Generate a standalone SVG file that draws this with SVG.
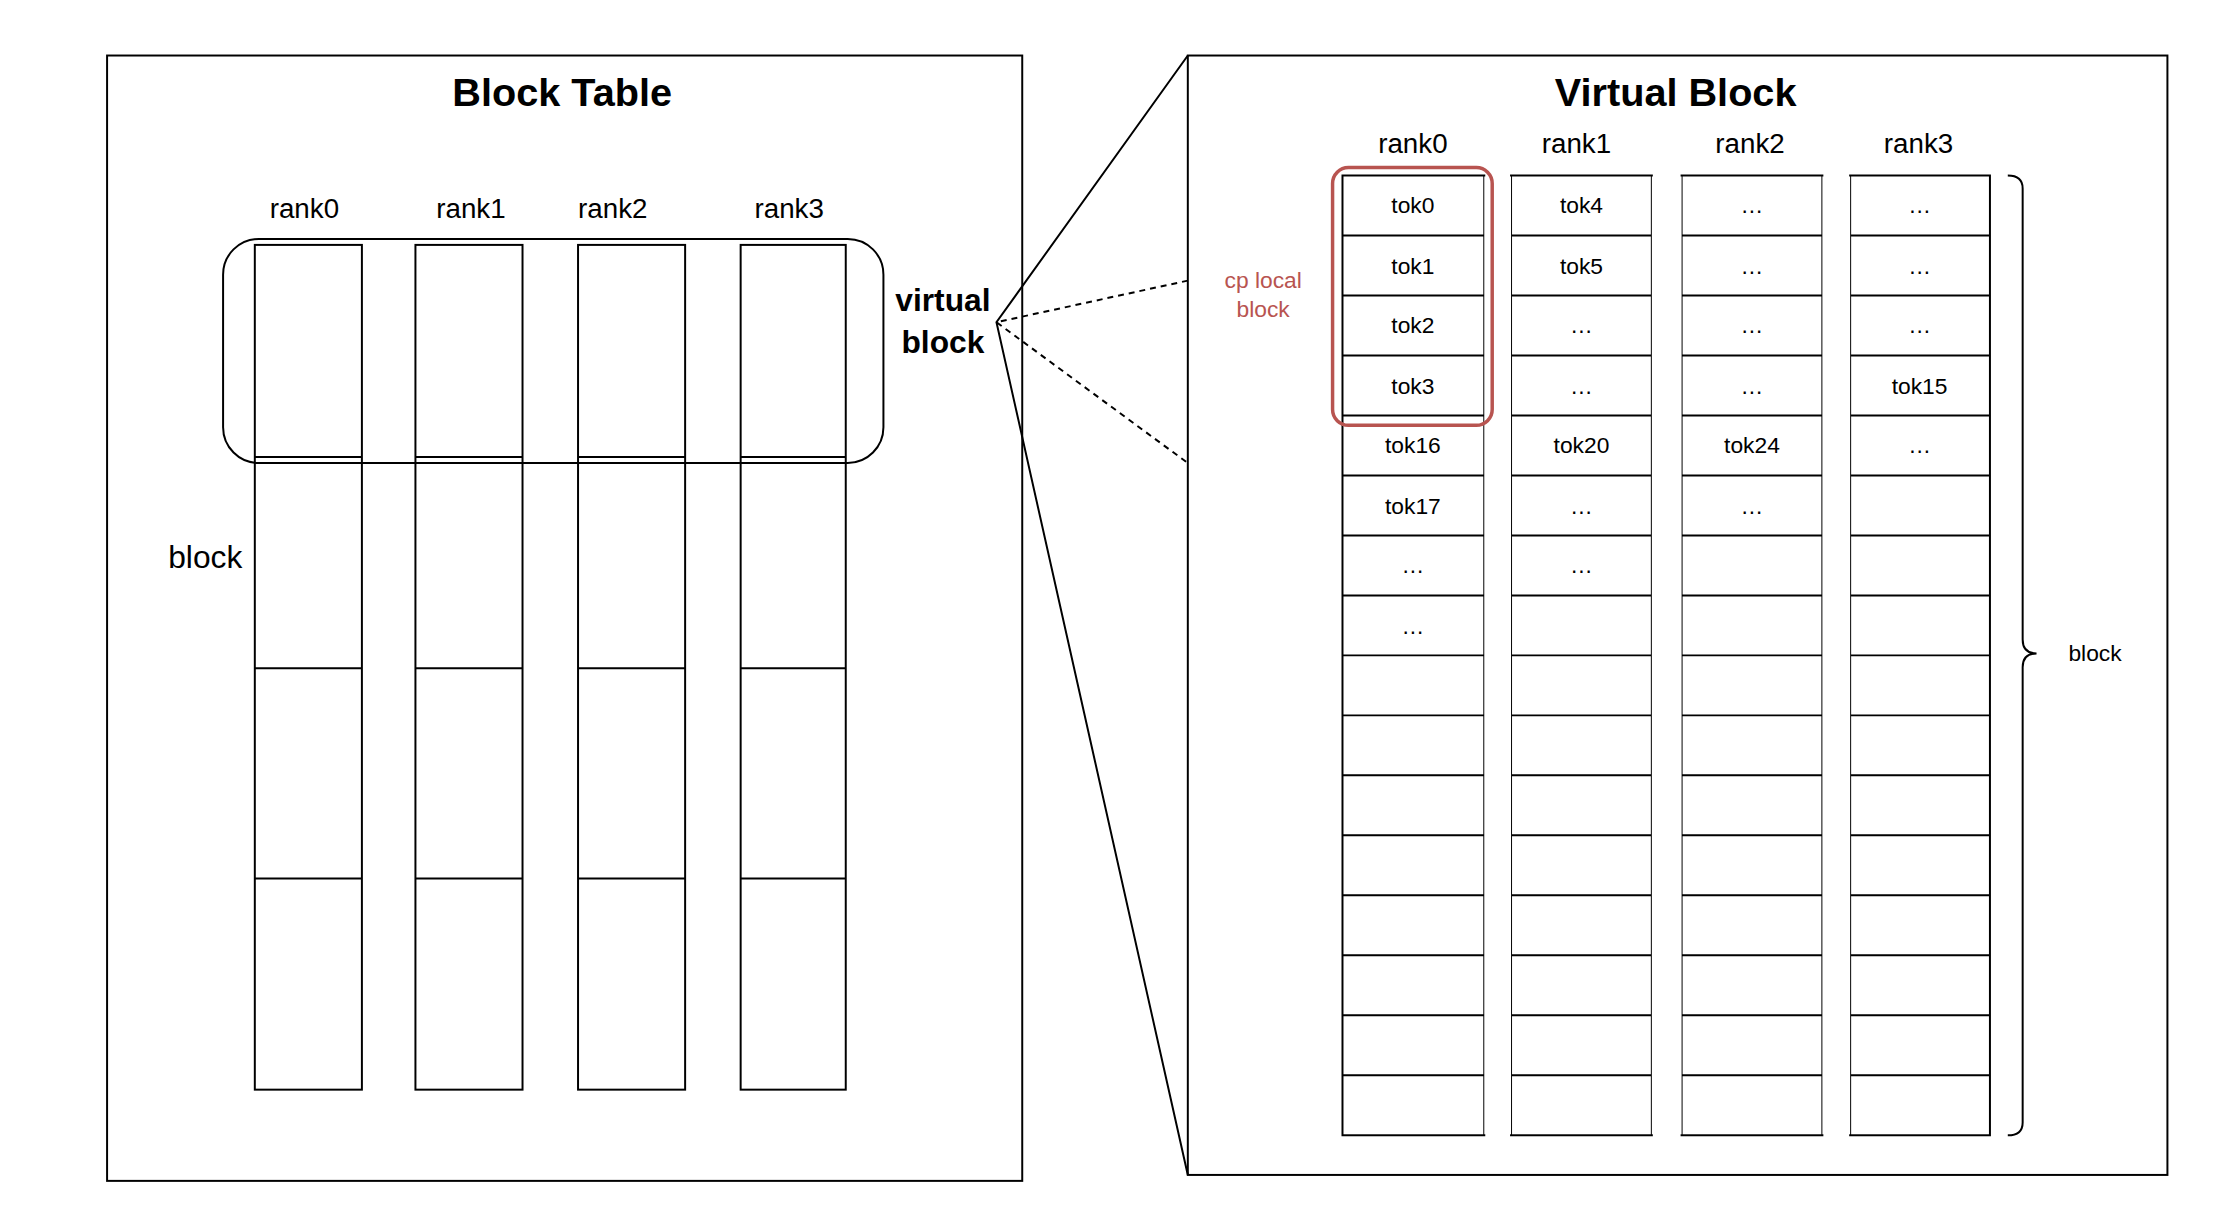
<svg xmlns="http://www.w3.org/2000/svg" width="2232" height="1232" viewBox="0 0 2232 1232">
<style>
.b{fill:none;stroke:#000;stroke-width:2}
.t{font-family:"Liberation Sans",Arial,sans-serif;fill:#000;text-anchor:middle;dominant-baseline:central}
.r{font-size:28px}.c{font-size:23px}
.h{font-size:40px;font-weight:bold}
</style>
<rect width="2232" height="1232" fill="#fff"/>
<g transform="scale(0.9915)">
<g id="block-table">
<rect class="b" x="108" y="56" width="923" height="1135"/>
<text class="t h" x="567" y="93">Block Table</text>
<text class="t r" x="307" y="210">rank0</text><text class="t r" x="475" y="210">rank1</text><text class="t r" x="618" y="210">rank2</text><text class="t r" x="796" y="210">rank3</text>
<g class="b">
<rect x="257" y="247" width="108" height="852"/><rect x="419" y="247" width="108" height="852"/><rect x="583" y="247" width="108" height="852"/><rect x="747" y="247" width="106" height="852"/>
<path d="M257 461H365M419 461H527M583 461H691M747 461H853M257 674H365M419 674H527M583 674H691M747 674H853M257 886H365M419 886H527M583 886H691M747 886H853"/>
</g>
<text class="t" x="207" y="562" font-size="32">block</text>
</g>
<g id="virtual-block-group">
<rect class="b" x="225" y="241" width="666" height="226" rx="36"/>
<text class="t" x="951" y="303" font-size="32" font-weight="bold">virtual</text>
<text class="t" x="951" y="345" font-size="32" font-weight="bold">block</text>
</g>
<g id="connectors" class="b">
<path d="M1198 56L1005 325L1198 1185"/>
<path d="M1198 283L1005 325L1198 467" stroke-dasharray="6 5"/>
</g>
<g id="virtual-block">
<rect class="b" x="1198" y="56" width="988" height="1129"/>
<text class="t h" x="1690" y="93">Virtual Block</text>
<text class="t r" x="1425" y="145">rank0</text><text class="t r" x="1590" y="145">rank1</text><text class="t r" x="1765" y="145">rank2</text><text class="t r" x="1935" y="145">rank3</text>
<g class="b" stroke-width="2.5">
<rect x="1354" y="177" width="143" height="968"/><rect x="1524" y="177" width="142" height="968"/><rect x="1696" y="177" width="142" height="968"/><rect x="1866" y="177" width="141" height="968"/>
<path d="M1354 237.5H2007M1354 298H2007M1354 358.5H2007M1354 419H2007M1354 479.5H2007M1354 540H2007M1354 600.5H2007M1354 661H2007M1354 721.5H2007M1354 782H2007M1354 842.5H2007M1354 903H2007M1354 963.5H2007M1354 1024H2007M1354 1084.5H2007" />
<rect x="1497" y="178" width="27" height="966" fill="#fff" stroke="none"/><rect x="1666" y="178" width="30" height="966" fill="#fff" stroke="none"/><rect x="1838" y="178" width="28" height="966" fill="#fff" stroke="none"/>
</g>
<g class="t c">
<text x="1425" y="207">tok0</text><text x="1425" y="268">tok1</text><text x="1425" y="328">tok2</text><text x="1425" y="389">tok3</text><text x="1425" y="449">tok16</text><text x="1425" y="510">tok17</text><text x="1425" y="570">…</text><text x="1425" y="631">…</text>
<text x="1595" y="207">tok4</text><text x="1595" y="268">tok5</text><text x="1595" y="328">…</text><text x="1595" y="389">…</text><text x="1595" y="449">tok20</text><text x="1595" y="510">…</text><text x="1595" y="570">…</text>
<text x="1767" y="207">…</text><text x="1767" y="268">…</text><text x="1767" y="328">…</text><text x="1767" y="389">…</text><text x="1767" y="449">tok24</text><text x="1767" y="510">…</text>
<text x="1936" y="207">…</text><text x="1936" y="268">…</text><text x="1936" y="328">…</text><text x="1936" y="389">tok15</text><text x="1936" y="449">…</text>
</g>
<path class="b" d="M2025 177Q2040 177 2040 190V645Q2040 659 2054 659Q2040 659 2040 673V1132Q2040 1145 2025 1145"/>
<text class="t c" x="2113" y="659">block</text>
</g>
<g id="cp-local-block">
<rect x="1344" y="169" width="161" height="260" rx="16" fill="none" stroke="#b85450" stroke-width="3.5"/>
<text class="t c" x="1274" y="282" style="fill:#b85450">cp local</text>
<text class="t c" x="1274" y="312" style="fill:#b85450">block</text>
</g>
</g>
</svg>
